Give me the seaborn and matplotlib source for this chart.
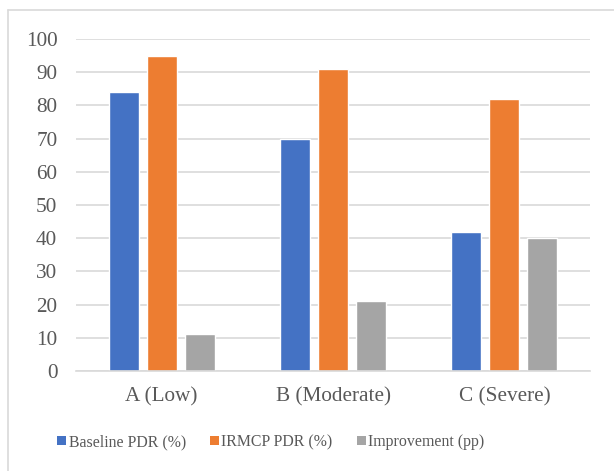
import matplotlib
matplotlib.use("Agg")
import matplotlib.pyplot as plt
from matplotlib.patches import Rectangle
from matplotlib.lines import Line2D
import seaborn as sns
import pandas as pd

categories = ["A (Low)", "B (Moderate)", "C (Severe)"]
series_names = ["Baseline PDR (%)", "IRMCP PDR (%)", "Improvement (pp)"]
baseline_pdr = [84, 70, 42]
irmcp_pdr = [95, 91, 82]
improvement_pp = [11, 21, 40]
y_ticks = [0, 10, 20, 30, 40, 50, 60, 70, 80, 90, 100]

colors = ["#4472C4", "#ED7D31", "#A5A5A5"]
text_color = "#595959"
grid_color = "#D9D9D9"

df = pd.DataFrame({
    "Scenario": categories * 3,
    "Series": [series_names[0]] * 3 + [series_names[1]] * 3 + [series_names[2]] * 3,
    "Value": baseline_pdr + irmcp_pdr + improvement_pp,
})

sns.set_theme(style="white")
plt.rcParams["font.family"] = ["Liberation Serif", "DejaVu Serif"]

fig = plt.figure(figsize=(6.14, 4.71), dpi=100)
ax = fig.add_axes([76 / 614, 1 - 371 / 471, (590 - 76) / 614, (371 - 39) / 471])

sns.barplot(data=df, x="Scenario", y="Value", hue="Series", order=categories,
            hue_order=series_names, palette=colors, width=0.665, gap=0.21,
            saturation=1, ax=ax, legend=False)

ax.set_ylim(0, 100)
ax.set_yticks(y_ticks)
ax.set_xlim(-0.5, len(categories) - 0.5)
ax.yaxis.grid(True, color=grid_color, linewidth=1.2)
ax.set_axisbelow(True)
for side in ["top", "right", "left"]:
    ax.spines[side].set_visible(False)
ax.spines["bottom"].set_color(grid_color)
ax.spines["bottom"].set_linewidth(1.2)
ax.set_xlabel("")
ax.set_ylabel("")
ax.tick_params(axis="y", length=0, pad=13.5, labelsize=15.3, labelcolor=text_color)
ax.tick_params(axis="x", length=0, pad=12, labelsize=15.3, labelcolor=text_color)

handles = [Rectangle((0, 0), 1, 1, facecolor=c, edgecolor="none") for c in colors]
fig.legend(handles, series_names, loc="center", bbox_to_anchor=(271 / 614, 1 - 442 / 471),
           ncol=3, frameon=False, fontsize=11.4, labelcolor=text_color,
           handlelength=0.55, handleheight=0.55, handletextpad=0.15, columnspacing=1.55)

# chart frame (left and top edges)
fig.add_artist(Line2D([7.5 / 614, 7.5 / 614], [0, 1 - 10 / 471], transform=fig.transFigure,
                      color=grid_color, linewidth=1.2))
fig.add_artist(Line2D([7.5 / 614, 1], [1 - 10 / 471, 1 - 10 / 471], transform=fig.transFigure,
                      color=grid_color, linewidth=1.2))

fig.savefig("out.png", dpi=100, facecolor="white")
